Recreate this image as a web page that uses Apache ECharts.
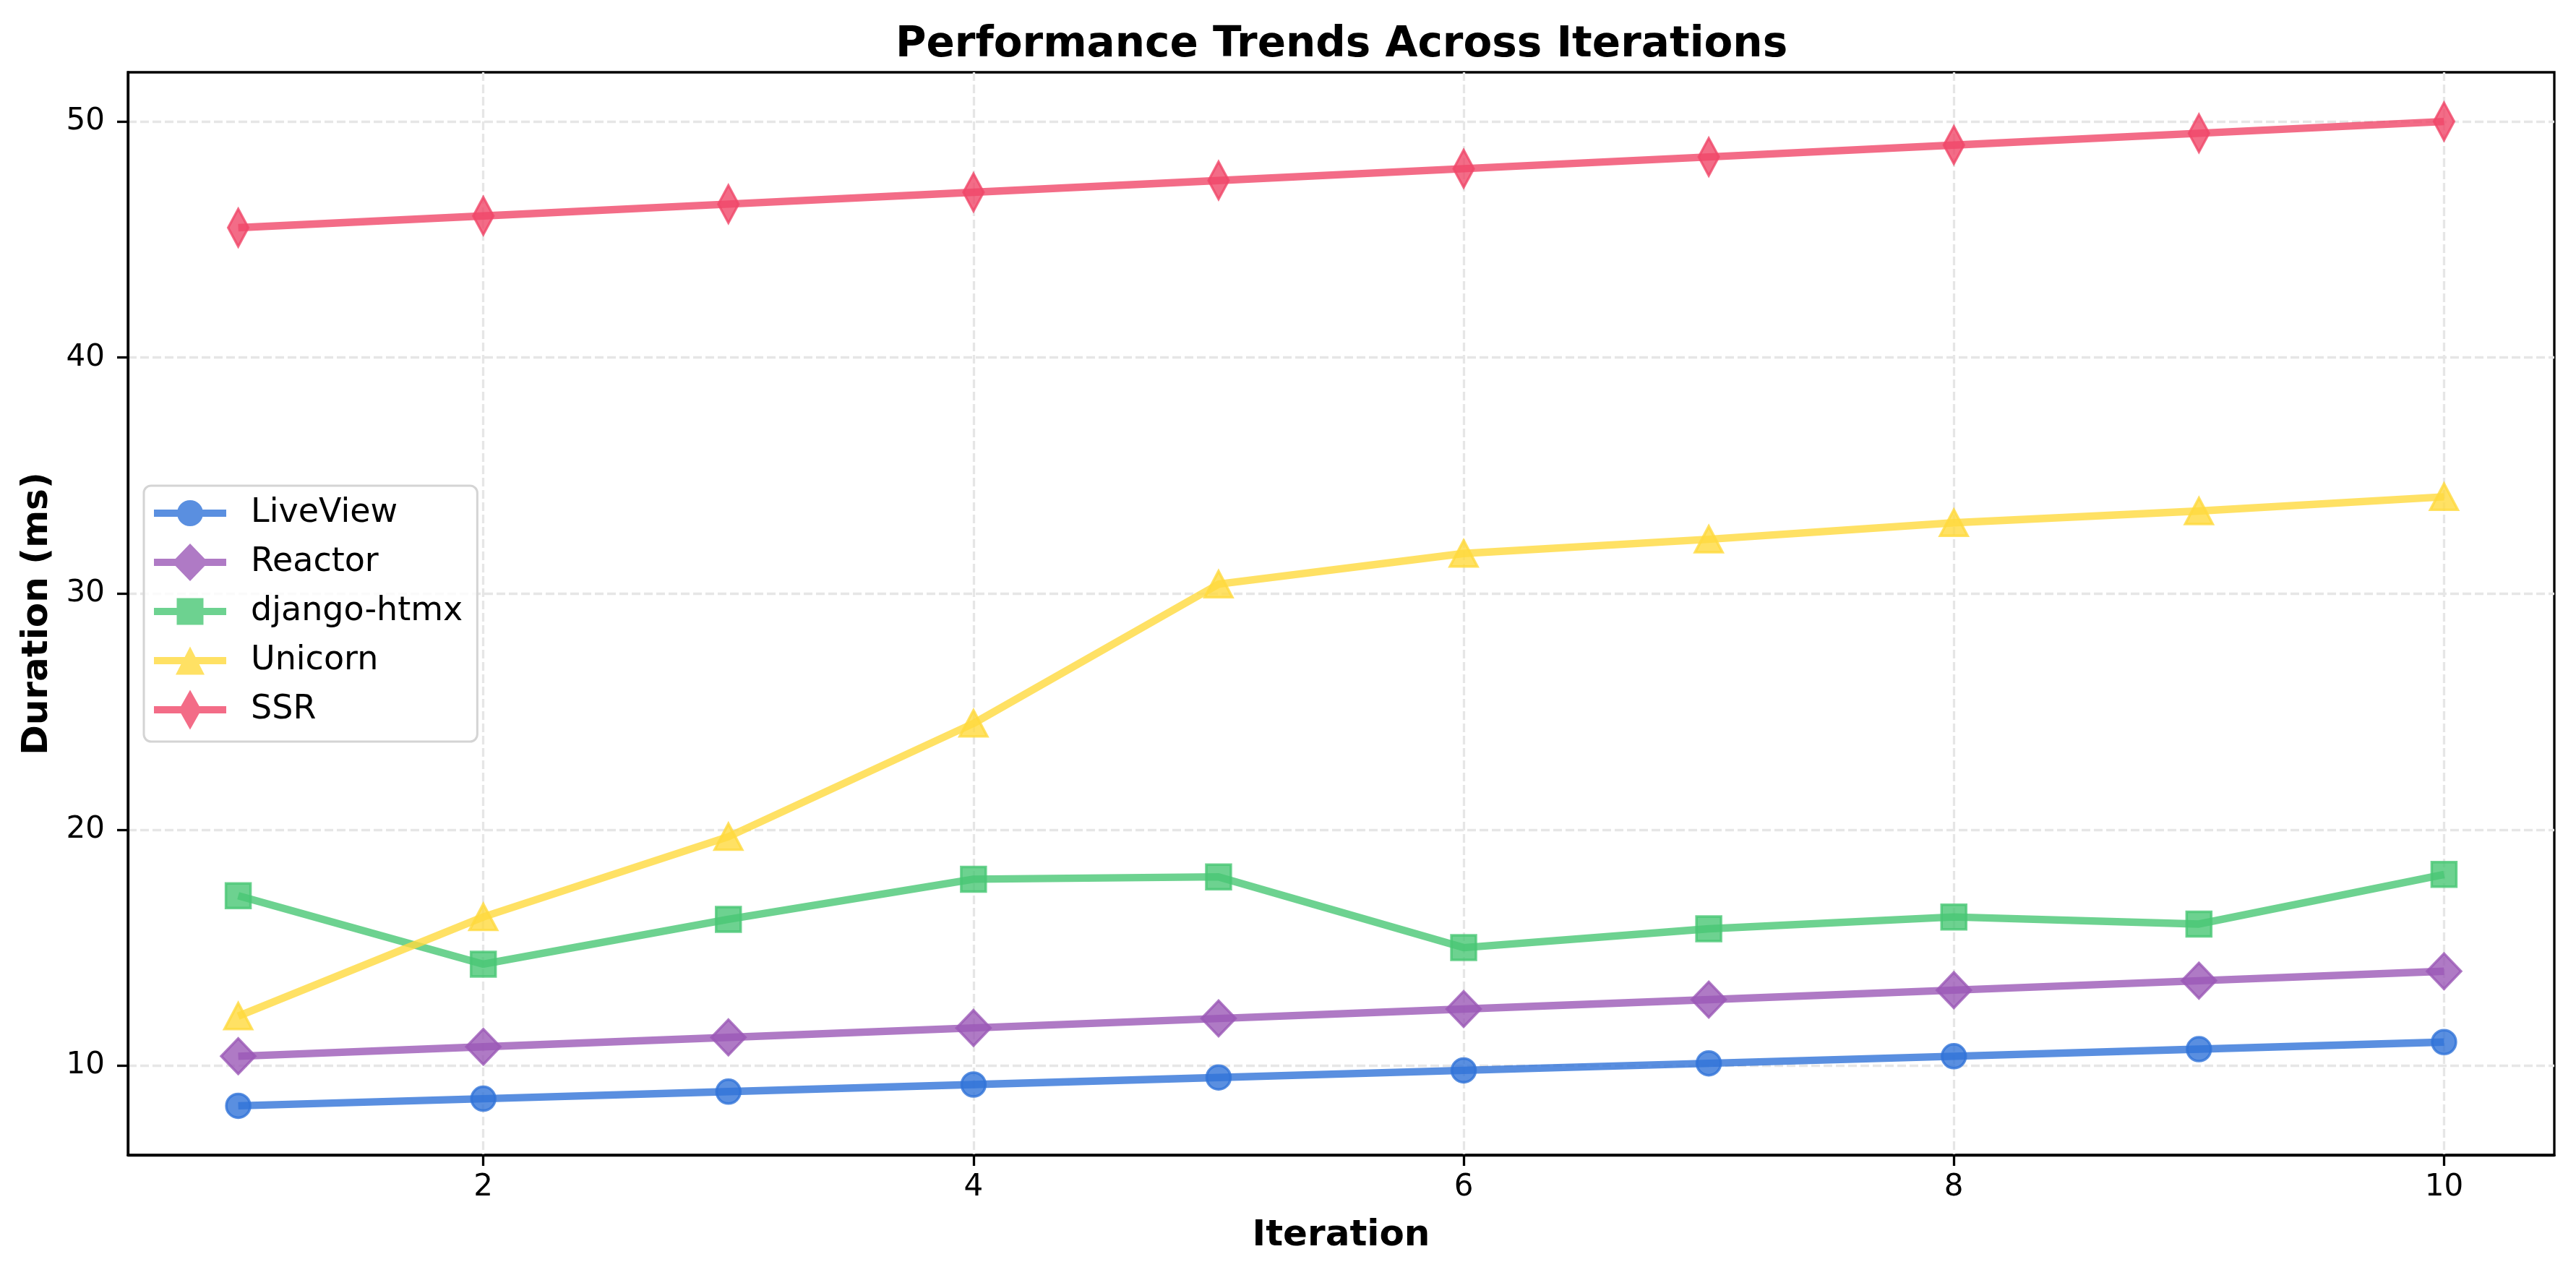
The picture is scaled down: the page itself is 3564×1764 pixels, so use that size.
<!DOCTYPE html>
<html>
<head>
<meta charset="utf-8">
<script src="https://cdn.jsdelivr.net/npm/echarts@6/dist/echarts.min.js"></script>
<style>
  html, body { margin: 0; padding: 0; background: #fff; }
  #chart { width: 3564px; height: 1764px; }
</style>
</head>
<body>
<div id="chart"></div>
<script>
// ---- data ----
const iterations = [1, 2, 3, 4, 5, 6, 7, 8, 9, 10];
const liveView   = [8.3, 8.6, 8.9, 9.2, 9.5, 9.8, 10.1, 10.4, 10.7, 11.0];
const reactor    = [10.4, 10.8, 11.2, 11.6, 12.0, 12.4, 12.8, 13.2, 13.6, 14.0];
const djangoHtmx = [17.2, 14.3, 16.2, 17.9, 18.0, 15.0, 15.8, 16.3, 16.0, 18.1];
const unicorn    = [12.1, 16.3, 19.7, 24.5, 30.4, 31.7, 32.3, 33.0, 33.5, 34.1];
const ssr        = [45.5, 46.0, 46.5, 47.0, 47.5, 48.0, 48.5, 49.0, 49.5, 50.0];
const seriesNames = ['LiveView', 'Reactor', 'django-htmx', 'Unicorn', 'SSR'];
const xTicks = [2, 4, 6, 8, 10];
const yTicks = [10, 20, 30, 40, 50];

const FONT = 'DejaVu Sans';
const colors = {
  'LiveView':    'rgba(49,115,216,0.8)',
  'Reactor':     'rgba(155,89,182,0.8)',
  'django-htmx': 'rgba(72,199,116,0.8)',
  'Unicorn':     'rgba(255,217,61,0.8)',
  'SSR':         'rgba(240,71,105,0.8)'
};
const symbols = {
  'LiveView':    { symbol: 'circle',   size: [33, 33] },
  'Reactor':     { symbol: 'diamond',  size: [47, 49] },
  'django-htmx': { symbol: 'rect',     size: [34, 34] },
  'Unicorn':     { symbol: 'triangle', size: [38, 36] },
  'SSR':         { symbol: 'diamond',  size: [28, 52] }
};
// legend icons: line + marker, in a 100 x 56 box
const legendIcons = {
  'LiveView': 'path://M0,23L32.7,23L32,28L32.7,33L0,33ZM67.3,23L100,23L100,33L67.3,33L68,28ZM32,28A18,18,0,1,1,68,28A18,18,0,1,1,32,28Z',
  'Reactor': 'path://M0,23L29.8,23L25,28L29.8,33L0,33ZM70.2,23L100,23L100,33L70.2,33L75,28ZM25,28L50,2L75,28L50,54Z',
  'django-htmx': 'path://M0,23L31.5,23L31.5,33L0,33ZM68.5,23L100,23L100,33L68.5,33ZM31.5,9.5L68.5,9.5L68.5,46.5L31.5,46.5Z',
  'Unicorn': 'path://M0,23L42.6,23L37.4,33L0,33ZM57.4,23L100,23L100,33L62.6,33ZM50,8.5L70,47.5L30,47.5Z',
  'SSR': 'path://M0,23L37.3,23L34.5,28L37.3,33L0,33ZM62.7,23L100,23L100,33L62.7,33L65.5,28ZM34.5,28L50,0.5L65.5,28L50,55.5Z'
};
const seriesData = [liveView, reactor, djangoHtmx, unicorn, ssr];

const chart = echarts.init(document.getElementById('chart'), null, { renderer: 'canvas' });

const gridLine = { show: true, lineStyle: { color: '#e6e6e6', width: 3.3, type: [12, 5] } };

const option = {
  backgroundColor: '#ffffff',
  animation: false,
  title: {
    text: 'Performance Trends Across Iterations',
    left: 1234,
    top: 29,
    textStyle: { fontFamily: FONT, fontSize: 58, fontWeight: 'bold', color: '#000' }
  },
  grid: {
    left: 177, right: 30, top: 100, bottom: 166,
    show: true, borderColor: '#000', borderWidth: 3.3, backgroundColor: 'transparent'
  },
  legend: {
    orient: 'vertical',
    left: 199, top: 672,
    itemWidth: 100, itemHeight: 56, itemGap: 12,
    padding: [10, 20, 16, 14],
    backgroundColor: 'rgba(255,255,255,0.8)',
    borderColor: '#d4d4d4', borderWidth: 3, borderRadius: 10,
    textStyle: { fontFamily: FONT, fontSize: 46, color: '#000', padding: [0, 0, 0, 29], lineHeight: 56 },
    data: seriesNames.map(n => ({
      name: n,
      icon: legendIcons[n],
      itemStyle: { color: colors[n], borderWidth: 0 }
    }))
  },
  xAxis: {
    type: 'value',
    min: 0.55, max: 10.45,
    name: 'Iteration',
    nameLocation: 'middle',
    nameGap: 87,
    nameTextStyle: { fontFamily: FONT, fontSize: 50, fontWeight: 'bold', color: '#000' },
    axisLine: { show: true, onZero: false, lineStyle: { color: '#000', width: 3.3 } },
    axisTick: { show: true, length: 15, lineStyle: { color: '#000', width: 3.3 }, customValues: xTicks },
    axisLabel: { fontFamily: FONT, fontSize: 42, color: '#000', margin: 24, customValues: xTicks },
    splitLine: gridLine
  },
  yAxis: {
    type: 'value',
    min: 6.215, max: 52.085,
    name: 'Duration (ms)',
    nameLocation: 'middle',
    nameGap: 100,
    nameTextStyle: { fontFamily: FONT, fontSize: 50, fontWeight: 'bold', color: '#000' },
    axisLine: { show: true, onZero: false, lineStyle: { color: '#000', width: 3.3 } },
    axisTick: { show: true, length: 15, lineStyle: { color: '#000', width: 3.3 }, customValues: yTicks },
    axisLabel: { fontFamily: FONT, fontSize: 42, color: '#000', margin: 32, customValues: yTicks },
    splitLine: gridLine
  },
  series: seriesNames.map((n, i) => ({
    name: n,
    type: 'line',
    data: iterations.map((x, j) => [x, seriesData[i][j]]),
    symbol: symbols[n].symbol,
    symbolSize: symbols[n].size,
    showSymbol: true,
    showAllSymbol: true,
    lineStyle: { color: colors[n], width: 10.4 },
    itemStyle: { color: colors[n], borderColor: colors[n], borderWidth: 3.5 },
    emphasis: { disabled: true }
  }))
};
chart.setOption(option);
</script>
</body>
</html>
